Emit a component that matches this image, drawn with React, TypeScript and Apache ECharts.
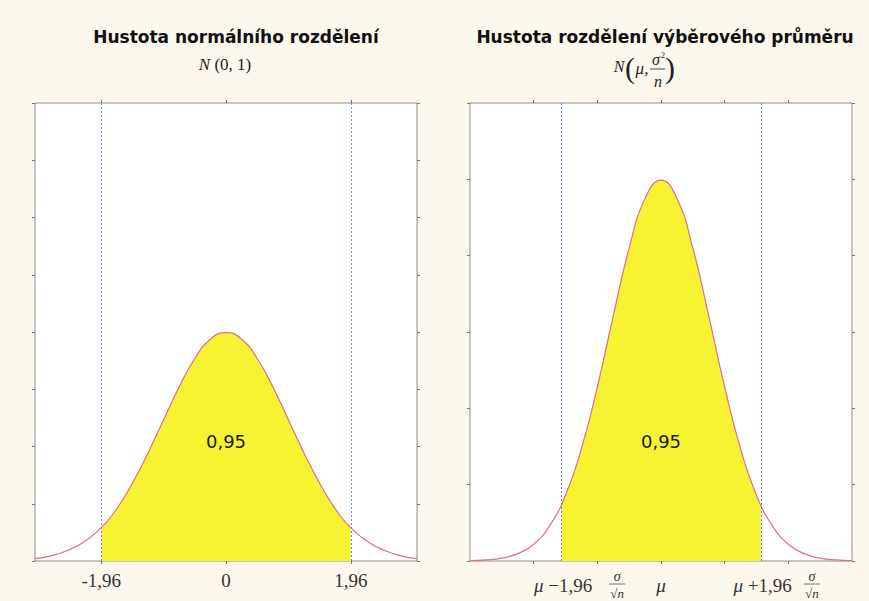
import React, { useEffect, useRef } from 'react';
import * as echarts from 'echarts';

// x grid on which the densities were read
const xs = [-3, -2.75, -2.5, -2.25, -2, -1.75, -1.5, -1.25, -1, -0.75, -0.5, -0.25, 0, 0.25, 0.5, 0.75, 1, 1.25, 1.5, 1.75, 2, 2.25, 2.5, 2.75, 3];
// left panel: N(0,1)
const leftDensity = [0.004, 0.009, 0.018, 0.032, 0.054, 0.086, 0.130, 0.183, 0.242, 0.301, 0.352, 0.387, 0.399, 0.387, 0.352, 0.301, 0.242, 0.183, 0.130, 0.086, 0.054, 0.032, 0.018, 0.009, 0.004];
const leftCritical = [-1.96, 1.96];
const leftCriticalDensity = 0.058;
const leftTicks = [-1.96, 0, 1.96];
const leftTickLabels = ['-1,96', '0', '1,96'];
// right panel: N(mu, sigma^2/n)
const rightDensity = [0.0004, 0.0014, 0.0038, 0.0096, 0.022, 0.046, 0.086, 0.147, 0.228, 0.321, 0.410, 0.475, 0.499, 0.475, 0.410, 0.321, 0.228, 0.147, 0.086, 0.046, 0.022, 0.0096, 0.0038, 0.0014, 0.0004];
const rightCritical = [-1.568, 1.568];
const rightCriticalDensity = 0.073;
const rightTicks = [-2, -1, 0, 1, 2];
const rightTickLabels = ['\u2212', '+'];
const areaLabel = '0,95';
const leftTitle = 'Hustota normálního rozdělení';
const rightTitle = 'Hustota rozdělení výběrového průměru';

const YELLOW = '#f8f332';
const CURVE = '#d8708c';
const BLUE = '#7070ee';
const SERIF = '"Liberation Serif", "Times New Roman", serif';
const SANS = '"DejaVu Sans", sans-serif';

function fillData(crit: number[], cd: number, dens: number[]) {
  const out: number[][] = [[crit[0], cd]];
  xs.forEach((x, i) => {
    if (x > crit[0] && x < crit[1]) out.push([x, dens[i]]);
  });
  out.push([crit[1], cd]);
  return out;
}

export default function App() {
  const ref = useRef<HTMLDivElement>(null);
  useEffect(() => {
    const chart = echarts.init(ref.current!, null, { renderer: 'svg' });
    const tickStyle = { show: true, length: 3, lineStyle: { color: '#777', width: 1 } };
    const gridBase = { show: true, backgroundColor: '#ffffff', borderColor: '#8c8c8c', borderWidth: 1, top: 103, height: 458, width: 382 };
    const xBase = (gi: number, pos: string, ticks: number[], labels: boolean) => ({
      type: 'value', gridIndex: gi, position: pos, min: -3, max: 3,
      axisLine: { show: false, onZero: false }, splitLine: { show: false },
      axisTick: { ...tickStyle, customValues: ticks },
      axisLabel: labels
        ? {
            show: true, customValues: ticks, margin: 10, color: '#333', fontFamily: SERIF, fontSize: 19,
            formatter: (v: number) => leftTickLabels[leftTicks.indexOf(v)] ?? String(v).replace('.', ','),
          }
        : { show: false },
    });
    const yBase = (gi: number, pos: string, max: number) => ({
      type: 'value', gridIndex: gi, position: pos, min: 0, max, interval: 0.1,
      axisLine: { show: false, onZero: false }, splitLine: { show: false }, axisLabel: { show: false }, axisTick: tickStyle,
    });
    const markLine = (crit: number[]) => ({
      symbol: 'none', silent: true, label: { show: false },
      itemStyle: { color: BLUE },
      lineStyle: { color: BLUE, type: [2, 2], width: 1, opacity: 0.9 },
      emphasis: { disabled: true },
      data: crit.map((x) => ({ xAxis: x })),
    });

    chart.setOption({
      animation: false,
      backgroundColor: '#fdf8ee',
      grid: [{ ...gridBase, left: 35 }, { ...gridBase, left: 470 }],
      xAxis: [xBase(0, 'bottom', leftTicks, true), xBase(0, 'top', leftTicks, false), xBase(1, 'bottom', rightTicks, false), xBase(1, 'top', rightTicks, false)],
      yAxis: [yBase(0, 'left', 0.8), yBase(0, 'right', 0.8), yBase(1, 'left', 0.6), yBase(1, 'right', 0.6)],
      series: [
        {
          type: 'line', xAxisIndex: 0, yAxisIndex: 0, smooth: true, symbol: 'none', z: 1,
          data: fillData(leftCritical, leftCriticalDensity, leftDensity),
          lineStyle: { width: 0 }, areaStyle: { color: YELLOW, opacity: 1 },
        },
        {
          type: 'line', xAxisIndex: 0, yAxisIndex: 0, smooth: true, symbol: 'none', z: 3,
          data: xs.map((x, i) => [x, leftDensity[i]]), lineStyle: { color: CURVE, width: 1.2 },
          markLine: markLine(leftCritical),
        },
        {
          type: 'line', xAxisIndex: 2, yAxisIndex: 2, smooth: true, symbol: 'none', z: 1,
          data: fillData(rightCritical, rightCriticalDensity, rightDensity),
          lineStyle: { width: 0 }, areaStyle: { color: YELLOW, opacity: 1 },
        },
        {
          type: 'line', xAxisIndex: 2, yAxisIndex: 2, smooth: true, symbol: 'none', z: 3,
          data: xs.map((x, i) => [x, rightDensity[i]]), lineStyle: { color: CURVE, width: 1.2 },
          markLine: markLine(rightCritical),
        },
      ],
    });

    const pL = (x: number, y: number) => chart.convertToPixel({ gridIndex: 0 } as any, [x, y]) as number[];
    const pR = (x: number, y: number) => chart.convertToPixel({ gridIndex: 1 } as any, [x, y]) as number[];
    const txt = (x: number, y: number, text: string, font: string, extra: any = {}) => ({
      type: 'text', x, y, z: 100,
      style: { text, font, fill: '#111', align: 'center', verticalAlign: 'middle', textAlign: 'center', textVerticalAlign: 'middle', ...extra },
    });
    const lc = pL(0, 0.208);
    const rc = pR(0, 0.156);
    const axisY = pR(0, 0)[1] + 24;
    const rich = {
      i: { fontFamily: SERIF, fontSize: 19, fontStyle: 'italic', fill: '#333', color: '#333' },
      n: { fontFamily: SERIF, fontSize: 19, fill: '#333', color: '#333' },
    };
    const fraction = (cx: number, cy: number) => [
      txt(cx, cy - 11, 'σ', `italic 14px ${SERIF}`, { fill: '#333' }),
      { type: 'line', z: 100, shape: { x1: cx - 8, y1: cy - 3, x2: cx + 8, y2: cy - 3 }, style: { stroke: '#555', lineWidth: 0.8 } },
      txt(cx, cy + 6, '√n', `italic 13px ${SERIF}`, { fill: '#333' }),
    ];
    const rLab = rightCritical.map((c, k) => {
      const px = pR(c, 0)[0];
      const offFrac = k === 0 ? 56 : 51;
      return [
        txt(px + 31, axisY, `{i|μ}{n| ${rightTickLabels[k]}1,96}`, `19px ${SERIF}`, { rich, align: 'right', textAlign: 'right' }),
        ...fraction(px + offFrac, axisY + 2),
      ];
    }).flat();
    const mu = pR(0, 0)[0];

    chart.setOption({
      graphic: [
        txt(236, 37, leftTitle, `bold 17px ${SANS}`),
        txt(665, 37, rightTitle, `bold 17px ${SANS}`),
        txt(225, 64, '{i|N} {n|(0, 1)}', `17px ${SERIF}`, { rich: { i: { ...rich.i, fontSize: 17, fill: '#222' }, n: { ...rich.n, fontSize: 17, fill: '#222' } } }),
        // N(mu, sigma^2/n)
        txt(619, 66, 'N', `italic 16px ${SERIF}`, { fill: '#222' }),
        txt(630, 67, '(', `30px ${SERIF}`, { fill: '#222' }),
        txt(642, 68, 'μ,', `italic 17px ${SERIF}`, { fill: '#222' }),
        txt(656, 59, 'σ', `italic 16px ${SERIF}`, { fill: '#222' }),
        txt(663, 55, '2', `8px ${SERIF}`, { fill: '#222' }),
        { type: 'line', z: 100, shape: { x1: 650, y1: 69, x2: 665, y2: 69 }, style: { stroke: '#333', lineWidth: 0.9 } },
        txt(658, 81, 'n', `italic 16px ${SERIF}`, { fill: '#222' }),
        txt(670, 67, ')', `30px ${SERIF}`, { fill: '#222' }),
        txt(lc[0], lc[1], areaLabel, `18px ${SANS}`, { fill: '#1a1a1a' }),
        txt(rc[0], rc[1], areaLabel, `18px ${SANS}`, { fill: '#1a1a1a' }),
        txt(mu, axisY, 'μ', `italic 19px ${SERIF}`, { fill: '#333' }),
        ...rLab,
      ],
    });
    return () => chart.dispose();
  }, []);
  return <div ref={ref} style={{ position: 'fixed', left: 0, top: 0, width: 869, height: 601 }} />;
}
